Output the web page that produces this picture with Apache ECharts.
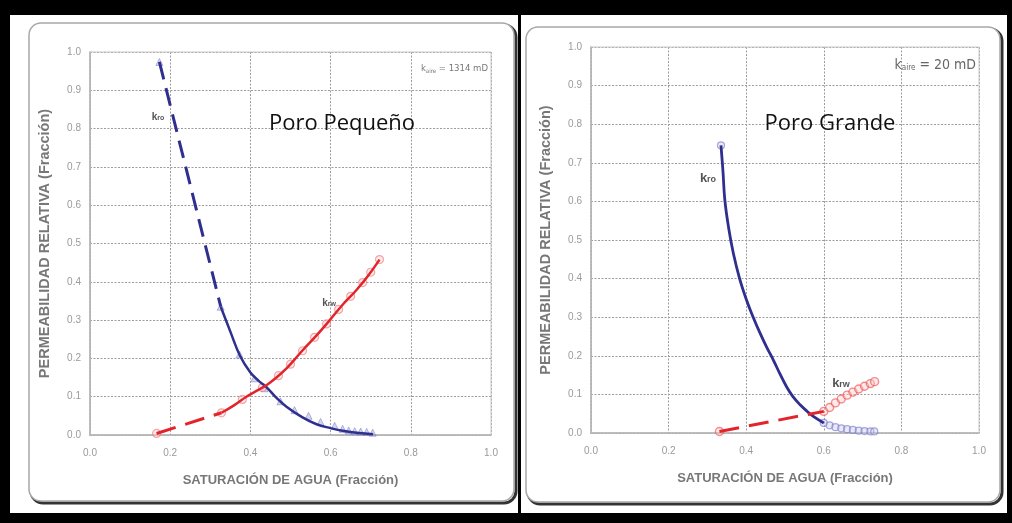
<!DOCTYPE html>
<html>
<head>
<meta charset="utf-8">
<script src="https://cdn.jsdelivr.net/npm/echarts@6/dist/echarts.min.js"></script>
<style>html,body{margin:0;padding:0;background:#000;}#c{width:1012px;height:523px;}</style>
</head>
<body>
<div id="c"></div>
<script>
// ---- tick labels ----
const xTickValues = [0.0, 0.2, 0.4, 0.6, 0.8, 1.0];
const yTickValues = [0.0, 0.1, 0.2, 0.3, 0.4, 0.5, 0.6, 0.7, 0.8, 0.9, 1.0];

// ---- Poro Pequeño (left) ----
const kroSmallDashed = [[0.173, 0.974], [0.326, 0.335]];
const kroSmallSolid = [[0.326, 0.335], [0.35, 0.27], [0.374, 0.207], [0.40, 0.163], [0.42, 0.142], [0.44, 0.125],
  [0.465, 0.097], [0.49, 0.074], [0.53, 0.046], [0.565, 0.028], [0.60, 0.018], [0.63, 0.011], [0.67, 0.005], [0.706, 0.002]];
const kroSmallPoints = [[0.173, 0.974], [0.326, 0.335], [0.373, 0.21], [0.41, 0.148], [0.435, 0.122], [0.475, 0.088],
  [0.51, 0.065], [0.545, 0.05], [0.575, 0.034], [0.61, 0.024], [0.63, 0.016], [0.645, 0.012], [0.66, 0.01],
  [0.675, 0.009], [0.69, 0.008], [0.705, 0.006]];
const krwSmallDashed = [[0.166, 0.004], [0.328, 0.058]];
const krwSmallSolid = [[0.328, 0.058], [0.36, 0.078], [0.39, 0.1], [0.42, 0.118], [0.44, 0.13], [0.465, 0.15],
  [0.49, 0.174], [0.51, 0.197], [0.531, 0.222], [0.565, 0.26], [0.598, 0.30], [0.63, 0.34], [0.664, 0.378],
  [0.695, 0.418], [0.722, 0.458]];
const krwSmallPoints = [[0.166, 0.004], [0.328, 0.058], [0.38, 0.093], [0.43, 0.124], [0.47, 0.155], [0.50, 0.185],
  [0.53, 0.22], [0.56, 0.255], [0.59, 0.29], [0.62, 0.328], [0.65, 0.362], [0.68, 0.398], [0.70, 0.425], [0.722, 0.458]];

// ---- Poro Grande (right) ----
const kroLargeSolid = [[0.335, 0.745], [0.34, 0.68], [0.345, 0.603], [0.355, 0.53], [0.367, 0.465], [0.383, 0.40],
  [0.401, 0.344], [0.418, 0.30], [0.436, 0.258], [0.453, 0.222], [0.47, 0.189], [0.487, 0.153], [0.504, 0.12],
  [0.52, 0.095], [0.539, 0.073], [0.556, 0.057], [0.573, 0.043], [0.60, 0.026]];
const kroLargePoints = [[0.335, 0.745], [0.60, 0.026], [0.615, 0.02], [0.63, 0.015], [0.645, 0.012], [0.66, 0.01],
  [0.675, 0.008], [0.69, 0.006], [0.705, 0.005], [0.72, 0.004], [0.73, 0.004]];
const krwLargeDashed = [[0.331, 0.004], [0.60, 0.056]];
const krwLargePoints = [[0.331, 0.004], [0.60, 0.056], [0.615, 0.066], [0.63, 0.078], [0.645, 0.088], [0.66, 0.098],
  [0.675, 0.106], [0.69, 0.114], [0.705, 0.121], [0.72, 0.128], [0.731, 0.133]];

const BLUE = '#2e2f8e';
const RED = '#e3242b';
const NARROW = '"DejaVu Sans Condensed", "Liberation Sans", sans-serif';

function xAxisCfg(gridIndex) {
  return {
    type: 'value', gridIndex, min: 0, max: 1, interval: 0.2,
    name: 'SATURACIÓN DE AGUA (Fracción)', nameLocation: 'middle', nameGap: 39,
    nameTextStyle: { color: '#777', fontWeight: 'bold', fontSize: 13, fontFamily: 'Liberation Sans' },
    axisLine: { show: true, lineStyle: { color: '#999', width: 1.5 } },
    axisTick: { show: false },
    axisLabel: { color: '#9a9a9a', fontSize: 10, margin: 13, fontFamily: 'Liberation Sans',
      formatter: v => xTickValues.some(t => Math.abs(t - v) < 1e-9) ? v.toFixed(1) : '' },
    splitLine: { show: true, lineStyle: { color: '#9c9c9c', type: [2, 1.5], width: 1 } }
  };
}
function yAxisCfg(gridIndex) {
  return {
    type: 'value', gridIndex, min: 0, max: 1, interval: 0.1,
    name: 'PERMEABILIDAD RELATIVA (Fracción)', nameLocation: 'middle', nameGap: 38,
    nameTextStyle: { color: '#777', fontWeight: 'bold', fontSize: 14.5, fontFamily: 'Liberation Sans' },
    axisLine: { show: true, lineStyle: { color: '#999', width: 1.5 } },
    axisTick: { show: false },
    axisLabel: { color: '#9a9a9a', fontSize: 10, margin: 9, fontFamily: 'Liberation Sans',
      formatter: v => yTickValues.some(t => Math.abs(t - v) < 1e-9) ? v.toFixed(1) : '' },
    splitLine: { show: true, lineStyle: { color: '#9c9c9c', type: [2, 1.5], width: 1 } }
  };
}

const chart = echarts.init(document.getElementById('c'), null, { renderer: 'canvas' });

const option = {
  backgroundColor: '#000',
  animation: false,
  grid: [
    { left: 90, right: 521, top: 52, bottom: 88, show: true, borderColor: '#c8c8c8', borderWidth: 1, backgroundColor: 'transparent', z: 1 },
    { left: 591, right: 33, top: 47, bottom: 90, show: true, borderColor: '#c8c8c8', borderWidth: 1, backgroundColor: 'transparent', z: 1 }
  ],
  xAxis: [xAxisCfg(0), xAxisCfg(1)],
  yAxis: [yAxisCfg(0), yAxisCfg(1)],
  series: [
    { type: 'line', xAxisIndex: 0, yAxisIndex: 0, data: kroSmallDashed, symbol: 'none', z: 5,
      lineStyle: { color: BLUE, width: 3, type: [18, 9] } },
    { type: 'line', xAxisIndex: 0, yAxisIndex: 0, data: kroSmallSolid, symbol: 'none', smooth: 0.4, z: 5,
      lineStyle: { color: BLUE, width: 2.5 } },
    { type: 'scatter', xAxisIndex: 0, yAxisIndex: 0, data: kroSmallPoints, symbol: 'triangle', symbolSize: 7, z: 4,
      itemStyle: { color: 'rgba(140,140,210,0.45)', borderColor: 'rgba(110,110,200,0.6)', borderWidth: 1 } },
    { type: 'line', xAxisIndex: 0, yAxisIndex: 0, data: krwSmallDashed, symbol: 'none', z: 5,
      lineStyle: { color: RED, width: 3, type: [20, 10] } },
    { type: 'line', xAxisIndex: 0, yAxisIndex: 0, data: krwSmallSolid, symbol: 'none', smooth: 0.4, z: 5,
      lineStyle: { color: RED, width: 2.5 } },
    { type: 'scatter', xAxisIndex: 0, yAxisIndex: 0, data: krwSmallPoints, symbol: 'circle', symbolSize: 8, z: 4,
      itemStyle: { color: 'rgba(255,210,210,0.5)', borderColor: 'rgba(235,120,120,0.8)', borderWidth: 1.2 } },

    { type: 'line', xAxisIndex: 1, yAxisIndex: 1, data: kroLargeSolid, symbol: 'none', smooth: 0.4, z: 5,
      lineStyle: { color: BLUE, width: 2.8 } },
    { type: 'scatter', xAxisIndex: 1, yAxisIndex: 1, data: kroLargePoints, symbol: 'circle', symbolSize: 7, z: 4,
      itemStyle: { color: 'rgba(200,200,240,0.5)', borderColor: 'rgba(120,120,200,0.8)', borderWidth: 1.2 } },
    { type: 'line', xAxisIndex: 1, yAxisIndex: 1, data: krwLargeDashed, symbol: 'none', z: 5,
      lineStyle: { color: RED, width: 3, type: [20, 10] } },
    { type: 'scatter', xAxisIndex: 1, yAxisIndex: 1, data: krwLargePoints, symbol: 'circle', symbolSize: 8, z: 4,
      itemStyle: { color: 'rgba(255,200,200,0.5)', borderColor: 'rgba(235,90,90,0.85)', borderWidth: 1.4 } }
  ],
  graphic: [
    // white paper areas
    { type: 'rect', z: -20, shape: { x: 10, y: 15, width: 508, height: 498 }, style: { fill: '#fff' } },
    { type: 'rect', z: -20, shape: { x: 521, y: 15, width: 486, height: 498 }, style: { fill: '#fff' } },
    // cards (shadow + frame)
    { type: 'rect', z: -19, shape: { x: 31, y: 25, width: 485, height: 478, r: 12 }, style: { fill: 'none', stroke: '#333', lineWidth: 3 } },
    { type: 'rect', z: -18, shape: { x: 29, y: 23, width: 485, height: 478, r: 12 }, style: { fill: '#fff', stroke: '#a8a8a8', lineWidth: 1.5 } },
    { type: 'rect', z: -19, shape: { x: 528, y: 29, width: 474, height: 475, r: 12 }, style: { fill: 'none', stroke: '#333', lineWidth: 3 } },
    { type: 'rect', z: -18, shape: { x: 526, y: 27, width: 474, height: 475, r: 12 }, style: { fill: '#fff', stroke: '#a8a8a8', lineWidth: 1.5 } },
    // cut-off caption below left card
    { type: 'text', z: -17, x: 285, y: 521, style: { text: '(b)', fill: '#555', font: 'bold 13px "Liberation Sans"', align: 'center', verticalAlign: 'middle' } },
    { type: 'rect', z: -16, shape: { x: 0, y: 513, width: 1012, height: 10 }, style: { fill: '#000' } },

    // titles
    { type: 'text', z: 100, x: 342, y: 124, style: { text: 'Poro Pequeño', fill: '#111', font: '22px "Open Sans"', align: 'center', verticalAlign: 'middle' } },
    { type: 'text', z: 100, x: 830, y: 124, style: { text: 'Poro Grande', fill: '#111', font: '22px "Open Sans"', align: 'center', verticalAlign: 'middle' } },

    // annotations left
    { type: 'text', z: 100, x: 488, y: 69, style: { text: '{k|k}{s|aire}{k| = 1314 mD}', align: 'right', verticalAlign: 'middle',
        rich: { k: { fontSize: 9.5, fill: '#777', fontFamily: NARROW }, s: { fontSize: 6, fill: '#777', fontFamily: NARROW, padding: [4, 0, 0, 0] } } } },
    { type: 'text', z: 100, x: 158, y: 117, style: { text: '{k|k}{s|ro}', align: 'center', verticalAlign: 'middle',
        rich: { k: { fontSize: 10, fontWeight: 'bold', fill: '#555' }, s: { fontSize: 7, fontWeight: 'bold', fill: '#555', padding: [3, 0, 0, 0] } } } },
    { type: 'text', z: 100, x: 329, y: 303, style: { text: '{k|k}{s|rw}', align: 'center', verticalAlign: 'middle',
        rich: { k: { fontSize: 10, fontWeight: 'bold', fill: '#555' }, s: { fontSize: 7, fontWeight: 'bold', fill: '#555', padding: [3, 0, 0, 0] } } } },

    // annotations right
    { type: 'text', z: 100, x: 976, y: 65, style: { text: '{k|k}{s|aire}{k| = 20 mD}', align: 'right', verticalAlign: 'middle',
        rich: { k: { fontSize: 14, fill: '#666', fontFamily: NARROW }, s: { fontSize: 8, fill: '#666', fontFamily: NARROW, padding: [5, 0, 0, 0] } } } },
    { type: 'text', z: 100, x: 708, y: 178, style: { text: '{k|k}{s|ro}', align: 'center', verticalAlign: 'middle',
        rich: { k: { fontSize: 13, fontWeight: 'bold', fill: '#555' }, s: { fontSize: 9, fontWeight: 'bold', fill: '#555', padding: [4, 0, 0, 0] } } } },
    { type: 'text', z: 100, x: 841, y: 383, style: { text: '{k|k}{s|rw}', align: 'center', verticalAlign: 'middle',
        rich: { k: { fontSize: 13, fontWeight: 'bold', fill: '#555' }, s: { fontSize: 9, fontWeight: 'bold', fill: '#555', padding: [4, 0, 0, 0] } } } }
  ]
};
chart.setOption(option);
</script>
</body>
</html>
